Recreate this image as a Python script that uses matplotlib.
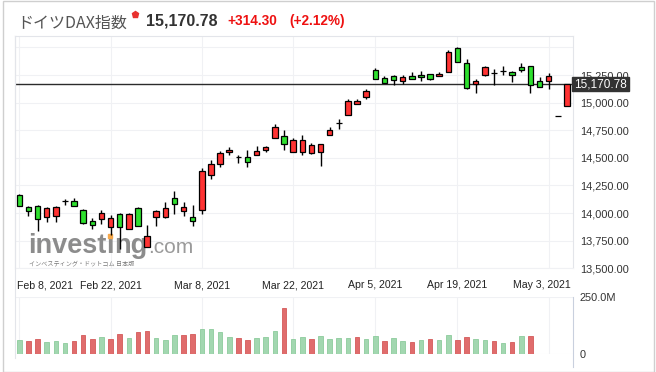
import numpy as np
import matplotlib
matplotlib.use("Agg")
import matplotlib.pyplot as plt
from matplotlib.patches import Rectangle
from matplotlib.lines import Line2D
from matplotlib.transforms import blended_transform_factory

plt.rcParams['font.family'] = ['Liberation Sans', 'Noto Sans CJK JP', 'DejaVu Sans']

# ---------------- data ----------------
title_name = "ドイツDAX指数"
last_price = 15170.78
change_txt = "+314.30"
change_pct_txt = "(+2.12%)"

opens = [14160, 14056, 14067, 13962, 13978, 14106, 14109, 14024, 13929, 13950,
         13870, 13995, 13860, 14047, 13693, 13969, 13966, 14137, 14020, 13966,
         14029, 14345, 14447, 14549, 14504, 14507, 14525, 14570, 14679, 14697,
         14552, 14552, 14543, 14552, 14711, 14814, 14892, 14986, 15054, 15292,
         15220, 15238, 15193, 15238, 15250, 15256, 15238, 15274, 15494, 15355,
         15171, 15247, 15271, 15289, 15280, 15319, 15329, 15199, 15193, 14877,
         14970]
highs = [14176, 14068, 14070, 14056, 14060, 14127, 14136, 14033, 13953, 14025,
         13980, 14004, 14004, 14056, 13888, 14032, 14104, 14203, 14104, 14077,
         14411, 14483, 14558, 14600, 14528, 14573, 14609, 14609, 14808, 14754,
         14679, 14708, 14634, 14627, 14778, 14850, 15031, 15031, 15121, 15313,
         15241, 15253, 15247, 15277, 15286, 15256, 15274, 15476, 15505, 15392,
         15211, 15331, 15307, 15329, 15289, 15356, 15329, 15235, 15265, 14877,
         15171]
lows = [14062, 13975, 13835, 13922, 13922, 14077, 14060, 13900, 13855, 13905,
        13806, 13671, 13855, 13880, 13690, 13882, 13960, 13993, 13971, 13881,
        13993, 14311, 14417, 14522, 14458, 14417, 14525, 14552, 14679, 14567,
        14552, 14522, 14534, 14429, 14703, 14765, 14892, 14986, 15033, 15211,
        15175, 15157, 15169, 15211, 15193, 15202, 15238, 15274, 15365, 15121,
        15085, 15241, 15157, 15247, 15190, 15274, 15090, 15139, 15121, 14877,
        14970]
closes = [14068, 14022, 13942, 14047, 14056, 14106, 14067, 13907, 13893, 13998,
          13959, 13870, 13989, 13880, 13792, 14023, 14047, 14083, 14056, 13926,
          14381, 14447, 14546, 14570, 14504, 14462, 14561, 14598, 14778, 14625,
          14661, 14661, 14616, 14627, 14754, 14814, 15013, 15013, 15103, 15211,
          15175, 15202, 15229, 15211, 15229, 15211, 15259, 15455, 15365, 15130,
          15196, 15319, 15271, 15289, 15247, 15292, 15162, 15139, 15241, 14877,
          15170.78]

volumes_m = [62, 58, 66, 54, 58, 49, 58, 84, 66, 75,
             66, 88, 71, 96, 104, 71, 62, 83, 83, 88,
             109, 109, 96, 75, 71, 62, 71, 75, 104, 203,
             66, 75, 66, 79, 66, 71, 71, 75, 66, 79,
             58, 71, 58, 54, 62, 66, 62, 83, 62, 75,
             66, 62, 58, 49, 54, 79, 79]
volume_up = "grrgggrrrgrrgrrgggrrggggrrgggrggrggggrggrggrgrggrrggrgrgr"

tick_idx = [0, 10, 20, 30, 39, 48, 58]
tick_labels = ["Feb 8, 2021", "Feb 22, 2021", "Mar 8, 2021", "Mar 22, 2021",
               "Apr 5, 2021", "Apr 19, 2021", "May 3, 2021"]
price_ticks = [13500, 13750, 14000, 14250, 14500, 14750, 15000, 15250, 15500]
price_labelled = [13500, 13750, 14000, 14250, 14500, 14750, 15000, 15250]

# ---------------- figure ----------------
W, H = 656, 372
fig = plt.figure(figsize=(W / 100, H / 100), dpi=100)
fig.patch.set_facecolor('white')

def fx(x):
    return x / W

def fy(y):
    return 1 - y / H

AX_L, AX_R = 15, 573
P_TOP, P_BOT = 36, 268.3
V_TOP, V_BOT = 297.3, 354.3

grid_c = '#f0f1f4'
frame_c = '#e3e5ea'

ax = fig.add_axes([fx(AX_L), fy(P_BOT), (AX_R - AX_L) / W, (P_BOT - P_TOP) / H])
vax = fig.add_axes([fx(AX_L), fy(V_BOT), (AX_R - AX_L) / W, (V_BOT - V_TOP) / H])

n = len(opens)
x = np.arange(n)
o = np.array(opens, float); h = np.array(highs, float)
l = np.array(lows, float); c = np.array(closes, float)

xlim = (-0.47, 60.66)

# price axes
ax.set_xlim(*xlim)
ax.set_ylim(13500, 15604)
ax.set_yticks(price_ticks)
ax.set_yticklabels([f"{v:,.2f}" if v in price_labelled else "" for v in price_ticks])
ax.yaxis.tick_right()
ax.tick_params(axis='y', length=0, pad=5, labelsize=7.9, labelcolor='#333333')
ax.set_xticks(tick_idx)
ax.tick_params(axis='x', length=0, labelbottom=False)
ax.grid(True, color=grid_c, lw=0.8, zorder=0)
ax.set_axisbelow(True)
for s in ['top', 'left', 'right']:
    ax.spines[s].set_color(frame_c)
    ax.spines[s].set_linewidth(0.8)
ax.spines['bottom'].set_color(grid_c)
ax.spines['bottom'].set_linewidth(0.8)

# watermark (behind candles)
renderer = fig.canvas.get_renderer()
wm_y = fy(253.3)
wm_size = 19.5
t1 = ax.text(fx(28), wm_y, "invest", transform=fig.transFigure, fontsize=wm_size,
             fontweight='bold', color='#8c8c8c', va='baseline', ha='left', zorder=1)
bb = t1.get_window_extent(renderer)
t2 = ax.text(bb.x1 / W, wm_y, "\u0131", transform=fig.transFigure, fontsize=wm_size,
             fontweight='bold', color='#8c8c8c', va='baseline', ha='left', zorder=1)
bb2 = t2.get_window_extent(renderer)
cx = (bb2.x0 + bb2.x1) / 2
ax.add_artist(Rectangle(((cx - 1.9) / W, fy(238)), 3.8 / W, 3.8 / H,
                        transform=fig.transFigure, color='#f6a84a', zorder=1.1))
t3 = ax.text(bb2.x1 / W, wm_y, "ng", transform=fig.transFigure, fontsize=wm_size,
             fontweight='bold', color='#8c8c8c', va='baseline', ha='left', zorder=1)
bb3 = t3.get_window_extent(renderer)
ax.text(bb3.x1 / W + 0.5 / W, wm_y, ".com", transform=fig.transFigure, fontsize=15,
        color='#9a9a9a', va='baseline', ha='left', zorder=1)
ax.text(fx(29), fy(263.5), "インベスティング・ドットコム 日本版", transform=fig.transFigure,
        fontsize=4.4, color='#7a7a7a', va='center', ha='left',
        family=['Noto Sans CJK JP'], zorder=1)

# current price line
ax.axhline(last_price, color='#2b2b2b', lw=1.0, zorder=1.5)

# candles
up = c > o
ax.vlines(x, l, h, color='black', lw=1.0, zorder=2)
body_col = np.where(up, '#ff3333', '#2ee02e')
ax.bar(x, np.abs(c - o), bottom=np.minimum(o, c), width=0.6, color=body_col,
       edgecolor='black', linewidth=0.9, zorder=3)

# date labels
trans = blended_transform_factory(ax.transData, ax.transAxes)
lab_y = (P_BOT - 285) / (P_BOT - P_TOP)
date_fs = 7.6
for i, (ti, tl) in enumerate(zip(tick_idx, tick_labels)):
    if i == 0:
        ax.text((17.3 - AX_L) / (AX_R - AX_L), lab_y, tl, transform=ax.transAxes,
                ha='left', va='center', fontsize=date_fs, color='#222222')
    elif i == len(tick_idx) - 1:
        ax.text((570.7 - AX_L) / (AX_R - AX_L), lab_y, tl, transform=ax.transAxes,
                ha='right', va='center', fontsize=date_fs, color='#222222')
    else:
        ax.text(ti, lab_y, tl, transform=trans, ha='center', va='center',
                fontsize=date_fs, color='#222222')

# volume axes
vol = np.array(volumes_m, float) * 1e6
vx = np.arange(len(vol))
vcol = ['#a2d7b0' if ch == 'g' else '#e06c6c' for ch in volume_up]
vedge = ['#8ccb9c' if ch == 'g' else '#d45a5a' for ch in volume_up]
vax.set_xlim(*xlim)
vax.set_ylim(0, 250e6)
vax.bar(vx, vol, width=0.5, color=vcol, edgecolor=vedge, linewidth=0.6, zorder=2)
vax.set_yticks([0, 250e6])
vax.set_yticklabels(['0', '250.0M'])
vax.yaxis.tick_right()
vax.tick_params(axis='y', length=0, pad=5, labelsize=7.9, labelcolor='#333333')
vax.set_xticks(tick_idx)
vax.tick_params(axis='x', length=0, labelbottom=False)
vax.grid(True, color=grid_c, lw=0.8, zorder=0)
vax.set_axisbelow(True)
for s in vax.spines.values():
    s.set_visible(False)

# frame lines
fig.add_artist(Line2D([fx(AX_L), fx(AX_L)], [fy(P_TOP), fy(358)], color=frame_c, lw=0.8))
fig.add_artist(Line2D([fx(AX_R), fx(AX_R)], [fy(V_TOP), fy(367)], color='#c9d0de', lw=0.8))
fig.add_artist(Rectangle((fx(3), fy(371.5)), (654 - 3) / W, (371.5 - 1) / H,
                         transform=fig.transFigure, fill=False, edgecolor='#cfcfcf', lw=1.0))

# current price box
fig.add_artist(Rectangle((fx(572), fy(90.7)), 56.7 / W, 13.4 / H,
                         transform=fig.transFigure, color='#333333', zorder=10))
fig.text(fx(600.3), fy(84.2), f"{last_price:,.2f}", color='white', fontsize=8.5,
         ha='center', va='center', zorder=11)

# header
fig.text(fx(17), fy(27.5), title_name, fontsize=11.5, color='#555555', va='baseline',
         ha='left', family=['Noto Sans CJK JP'])
fig.add_artist(Line2D([fx(135)], [fy(14)], marker='p', markersize=4.5,
                      color='#e8312f', linestyle='none'))
fig.text(fx(146), fy(25.3), f"{last_price:,.2f}", fontsize=11.5, fontweight='bold',
         color='#333333', va='baseline', ha='left')
fig.text(fx(227), fy(25.3), change_txt, fontsize=9.8, fontweight='bold',
         color='#ee1111', va='baseline', ha='left')
fig.text(fx(289), fy(25.3), change_pct_txt, fontsize=9.8, fontweight='bold',
         color='#ee1111', va='baseline', ha='left')

fig.savefig("out.png", dpi=100, facecolor='white')
